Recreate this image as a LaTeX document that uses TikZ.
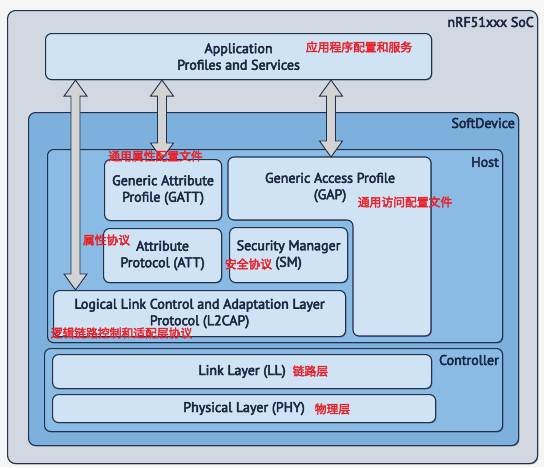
\documentclass[tikz,border=0pt]{standalone}
\usepackage{fontspec}
\setmainfont{PT Sans}[FakeBold=3.5]
\newfontfamily\cjk{Noto Sans CJK SC}[FakeBold=3]
\usetikzlibrary{calc,shadows}
\definecolor{bgc}{HTML}{F5F5F5}
\definecolor{socc}{HTML}{D1D8E1}
\definecolor{sdc}{HTML}{7DB0DC}
\definecolor{hostc}{HTML}{8ABBE4}
\definecolor{boxc}{HTML}{D0E3F4}
\definecolor{edgec}{HTML}{22304A}
\definecolor{txtc}{HTML}{1B2743}
\definecolor{redc}{HTML}{E8232B}
\definecolor{arrc}{HTML}{D3D3D3}
\tikzset{
  blk/.style={draw=edgec, line width=1.1pt, rounded corners=6pt, anchor=north west,
    inner sep=0pt, align=center, text=txtc, font=\fontsize{14}{16.5}\selectfont},
  inbox/.style={blk, fill=boxc},
  shd/.style={drop shadow={shadow xshift=0.9pt, shadow yshift=-0.9pt, fill=edgec, opacity=0.45}},
  tag/.style={anchor=east, inner sep=0pt, text=txtc, font=\fontsize{14}{15}\selectfont},
  redlbl/.style={inner sep=0pt, text=redc, font=\cjk\fontsize{11.8}{13}\selectfont},
  fatarrow/.style={draw=edgec, fill=arrc, line width=0.9pt, line join=miter,
    to path={let \p1=(\tikztostart), \p2=(\tikztotarget) in
      -- (\x1+11.5pt,\y1-16pt) -- (\x1+4.5pt,\y1-16pt) -- (\x1+4.5pt,\y2+16pt)
      -- (\x1+11.5pt,\y2+16pt) -- (\x1,\y2) -- (\x1-11.5pt,\y2+16pt)
      -- (\x1-4.5pt,\y2+16pt) -- (\x1-4.5pt,\y1-16pt) -- (\x1-11.5pt,\y1-16pt) -- cycle}}
}
\begin{document}
\begin{tikzpicture}[x=1pt,y=-1pt]
\fill[bgc] (0,0) rectangle (544,467);
\useasboundingbox (0,0) rectangle (544,467);
% containers
\node[blk, shd, fill=socc, rounded corners=8pt, minimum width=530pt, minimum height=453pt] (soc) at (7,10) {};
\node[tag] (soclbl) at (534,22) {nRF51xxx SoC};
\node[inbox, shd, minimum width=386pt, minimum height=46pt] (app) at (45,33) {Application\\Profiles and Services};
\node[blk, shd, fill=sdc, rounded corners=7pt, minimum width=490pt, minimum height=333pt] (sd) at (28,112) {};
\node[tag] (sdlbl) at (515,123) {SoftDevice};
\node[blk, shd, fill=hostc, minimum width=455pt, minimum height=193pt] (host) at (47,149) {};
\node[tag] (hostlbl) at (499,162) {Host};
\node[blk, shd, fill=hostc, minimum width=458pt, minimum height=83pt] (ctrl) at (44,348) {};
\node[tag] (ctrllbl) at (499,360) {Controller};
% host blocks
\node[inbox, shd, minimum width=117pt, minimum height=61pt] (gatt) at (104,159) {Generic Attribute\\Profile (GATT)};
\path[draw=edgec, fill=boxc, line width=1.1pt, rounded corners=6pt, shd]
  (228,157) -- (431,157) -- (431,336) -- (353,336) -- (353,220) -- (228,220) -- cycle;
\node[blk, draw=none, minimum width=203pt, minimum height=60pt] (gap) at (228,157) {Generic Access Profile\\(GAP)};
\node[inbox, shd, minimum width=118pt, minimum height=54pt] (att) at (103,228) {Attribute\\Protocol (ATT)};
\node[inbox, shd, minimum width=118pt, minimum height=55pt] (sm) at (229,227) {Security Manager\\(SM)};
\node[inbox, shd, minimum width=292pt, minimum height=46pt] (l2cap) at (53,290) {Logical Link Control and Adaptation Layer\\Protocol (L2CAP)};
% controller blocks
\node[inbox, shd, minimum width=379pt, minimum height=34pt] (ll) at (52,354) {Link Layer (LL)};
\node[inbox, shd, minimum width=383pt, minimum height=28pt] (phy) at (52,394) {Physical Layer (PHY)};
% arrows
\coordinate (a1x) at (75.5,0);
\coordinate (a2x) at (162,0);
\coordinate (a3x) at (331,0);
\draw[fatarrow] (app.south -| a1x) to (l2cap.north -| a1x);
\draw[fatarrow] (app.south -| a2x) to (gatt.north -| a2x);
\draw[fatarrow] (app.south -| a3x) to (gap.north -| a3x);
% red annotations
\node[redlbl] (r1) at (359,47) {应用程序配置和服务};
\node[redlbl] (r2) at (155.5,156) {通用属性配置文件};
\node[redlbl] (r3) at (405,202) {通用访问配置文件};
\node[redlbl] (r4) at (106.5,240) {属性协议};
\node[redlbl] (r5) at (248.5,264) {安全协议};
\node[redlbl] (r6) at (121.5,333) {逻辑链路控制和适配层协议};
\node[redlbl] (r7) at (310.5,371) {链路层};
\node[redlbl] (r8) at (332.5,409) {物理层};
\end{tikzpicture}
\end{document}
